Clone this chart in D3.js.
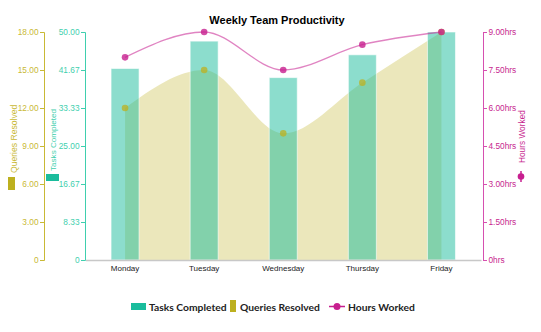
<!DOCTYPE html>
<html><head><meta charset="utf-8">
<script src="https://cdn.jsdelivr.net/npm/d3@7"></script>
<style>body{margin:0;background:#fff}svg{display:block}</style>
</head><body>
<script>
const days = ["Monday","Tuesday","Wednesday","Thursday","Friday"];
const tasksCompleted = [42, 48, 40, 45, 50];
const queriesResolved = [12, 15, 10, 14, 18];
const hoursWorked = [8, 9, 7.5, 8.5, 9];
const tasksTicks = [0, 8.33, 16.67, 25, 33.33, 41.67, 50];
const queriesTicks = [0, 3, 6, 9, 12, 15, 18];
const hoursTicks = [0, 1.5, 3, 4.5, 6, 7.5, 9];

const W = 541, H = 332;
const cTask = "#1abc9c", cTaskAxis = "#3fcfae";
const cQuery = "#bdb01f", cQueryAxis = "#c9b935";
const cHour = "#c71f8f", cHourAxis = "#d64fb0";
const FONT = "Arial, 'Liberation Sans', sans-serif";

const svg = d3.select("body").append("svg").attr("width", W).attr("height", H)
  .style("font-family", FONT);

const x0 = 85.5, x1 = 481, yTop = 32, yBot = 260;
const x = d3.scaleBand().domain(days).range([x0, x1]).padding(0);
const yT = d3.scaleLinear().domain([0, 50]).range([yBot, yTop]);
const yQ = d3.scaleLinear().domain([0, 18]).range([yBot, yTop]);
const yH = d3.scaleLinear().domain([0, 9]).range([yBot, yTop]);
const cx = d => x(d) + x.bandwidth() / 2;

svg.append("text").attr("x", 277).attr("y", 24).attr("text-anchor", "middle")
  .attr("font-weight", "bold").attr("font-size", 11).attr("fill", "#000")
  .text("Weekly Team Productivity");

// area for queries
const area = d3.area().x((d, i) => cx(days[i])).y0(yBot).y1(d => yQ(d)).curve(d3.curveMonotoneX);
svg.append("path").datum(queriesResolved).attr("d", area)
  .attr("fill", cQuery).attr("fill-opacity", 0.3);

// bars
const bw = 28;
svg.append("g").selectAll("rect").data(tasksCompleted).join("rect")
  .attr("x", (d, i) => cx(days[i]) - bw / 2).attr("width", bw)
  .attr("y", d => yT(d)).attr("height", d => yBot - yT(d))
  .attr("fill", cTask).attr("fill-opacity", 0.5)
  .attr("stroke", "#fff").attr("stroke-opacity", 0.6).attr("stroke-width", 1);

// query points
svg.append("g").selectAll("circle").data(queriesResolved).join("circle")
  .attr("cx", (d, i) => cx(days[i])).attr("cy", d => yQ(d)).attr("r", 3.3)
  .attr("fill", cQuery).attr("fill-opacity", 0.75);

// hours line
const line = d3.line().x((d, i) => cx(days[i])).y(d => yH(d)).curve(d3.curveMonotoneX);
svg.append("path").datum(hoursWorked).attr("d", line)
  .attr("fill", "none").attr("stroke", cHour).attr("stroke-opacity", 0.55).attr("stroke-width", 1.3);
svg.append("g").selectAll("circle").data(hoursWorked).join("circle")
  .attr("cx", (d, i) => cx(days[i])).attr("cy", d => yH(d)).attr("r", 3.3)
  .attr("fill", cHour).attr("fill-opacity", 0.8);

// x axis
const xa = svg.append("g").attr("transform", `translate(0,${yBot})`)
  .call(d3.axisBottom(x).tickSize(0).tickPadding(5));
xa.select(".domain").attr("stroke", "#c8c8c8").attr("stroke-width", 1.5);
xa.selectAll("text").attr("font-size", 8).attr("fill", "#222").attr("font-family", FONT);

function styleAxis(g, col, textCol) {
  g.select(".domain").attr("stroke", col);
  g.selectAll(".tick line").attr("stroke", col);
  g.selectAll("text").attr("fill", textCol).attr("font-size", 8.3).attr("font-family", FONT);
}
// tasks axis
const ta = svg.append("g").attr("transform", `translate(85,0)`)
  .call(d3.axisLeft(yT).tickValues(tasksTicks).tickSize(4).tickSizeOuter(4).tickPadding(1.5)
    .tickFormat(d => d === 0 ? "0" : d.toFixed(2)));
styleAxis(ta, cTaskAxis, cTaskAxis);
// queries axis
const qa = svg.append("g").attr("transform", `translate(44,0)`)
  .call(d3.axisLeft(yQ).tickValues(queriesTicks).tickSize(4).tickSizeOuter(4).tickPadding(1.5)
    .tickFormat(d => d === 0 ? "0" : d.toFixed(2)));
styleAxis(qa, cQueryAxis, cQueryAxis);
// hours axis
const ha = svg.append("g").attr("transform", `translate(483,0)`)
  .call(d3.axisRight(yH).tickValues(hoursTicks).tickSize(4).tickSizeOuter(4).tickPadding(1.5)
    .tickFormat(d => d === 0 ? "0hrs" : d.toFixed(2) + "hrs"));
styleAxis(ha, cHourAxis, cHour);

// axis titles with symbols
svg.append("text").attr("transform", "translate(16.5,173) rotate(-90)")
  .attr("font-size", 8.6).attr("fill", cQueryAxis).text("Queries Resolved");
svg.append("rect").attr("x", 8).attr("y", 177).attr("width", 7).attr("height", 13).attr("fill", cQuery);

svg.append("text").attr("transform", "translate(55.5,171) rotate(-90)")
  .attr("font-size", 8.1).attr("fill", cTaskAxis).text("Tasks Completed");
svg.append("rect").attr("x", 46).attr("y", 174).attr("width", 13).attr("height", 7).attr("fill", cTask);

svg.append("text").attr("transform", "translate(525,163) rotate(-90)")
  .attr("font-size", 8.3).attr("fill", cHour).text("Hours Worked");
svg.append("line").attr("x1", 521).attr("x2", 521).attr("y1", 171).attr("y2", 182).attr("stroke", cHour).attr("stroke-width", 1.5);
svg.append("circle").attr("cx", 521).attr("cy", 176.5).attr("r", 3.3).attr("fill", cHour);

// legend
const lg = svg.append("g").attr("font-family", "Lato, 'Open Sans', sans-serif").attr("font-weight", "bold").attr("font-size", 10.3);
lg.append("rect").attr("x", 131).attr("y", 303).attr("width", 15).attr("height", 7).attr("fill", cTask);
lg.append("text").attr("x", 149).attr("y", 310.5).attr("fill", "#222").text("Tasks Completed");
lg.append("rect").attr("x", 230).attr("y", 300).attr("width", 6).attr("height", 12).attr("fill", cQuery);
lg.append("text").attr("x", 240).attr("y", 310.5).attr("fill", "#222").text("Queries Resolved");
lg.append("line").attr("x1", 329).attr("x2", 345).attr("y1", 306.5).attr("y2", 306.5).attr("stroke", cHour).attr("stroke-width", 1.5);
lg.append("circle").attr("cx", 337).attr("cy", 306.5).attr("r", 3.5).attr("fill", cHour);
lg.append("text").attr("x", 348).attr("y", 310.5).attr("fill", "#222").text("Hours Worked");
</script>
</body></html>
